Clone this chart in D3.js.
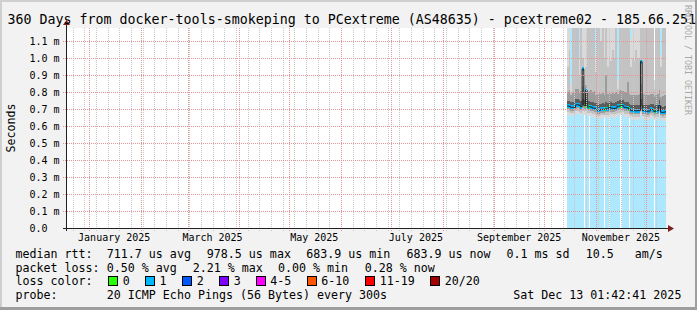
<!DOCTYPE html>
<html><head><meta charset="utf-8">
<script src="https://cdn.jsdelivr.net/npm/d3@7"></script>
<style>
html,body{margin:0;padding:0;background:#f2f2f2;}
svg{display:block;}
text{font-family:"DejaVu Sans Mono",monospace;fill:#000;}
</style>
</head><body>
<svg id="chart" width="697" height="310"></svg>
<script>
// ---------------- data ----------------
const titleText = "360 Days from docker-tools-smokeping to PCextreme (AS48635) - pcextreme02 - 185.66.251";
const yAxisTitle = "Seconds";
const watermarkText = "RRDTOOL / TOBI OETIKER";
const rangeStart = "2024-12-18T01:42:41Z";
const rangeEnd = "2025-12-13T01:42:41Z";
const firstBin = "2025-10-14T18:00:00Z";   // first day with data
const yMaxMs = 1.1765;
const yTicks = [0, 0.1, 0.2, 0.3, 0.4, 0.5, 0.6, 0.7, 0.8, 0.9, 1.0, 1.1];
const yTickLabels = ["0.0", "0.1 m", "0.2 m", "0.3 m", "0.4 m", "0.5 m", "0.6 m", "0.7 m", "0.8 m", "0.9 m", "1.0 m", "1.1 m"];
const monthLabels = ["January 2025", "March 2025", "May 2025", "July 2025", "September 2025", "November 2025"];
const monthLabelDates = ["2025-01-16", "2025-03-16", "2025-05-16", "2025-07-16", "2025-09-16", "2025-11-16"];

// daily values, ms
const medianMs = [0.718,0.716,0.710,0.710,0.709,0.724,0.725,0.722,0.714,0.935,
                  0.720,0.810,0.712,0.713,0.711,0.706,0.704,0.703,0.692,0.693,
                  0.698,0.699,0.698,0.701,0.700,0.712,0.705,0.704,0.703,0.706,
                  0.716,0.717,0.720,0.719,0.709,0.708,0.706,0.698,0.692,0.690,
                  0.691,0.689,0.690,0.691,0.978,0.692,0.690,0.688,0.687,0.689,
                  0.698,0.697,0.686,0.690,0.691,0.720,0.681,0.680,0.682,0.684];
const lossPct = [0.6,0.4,0.5,0.3,0.5,0.6,0.4,0.5,0.7,2.21,
                 0,0.9,0.5,0,0.4,0.5,0.3,0.6,0.4,0.5,
                 0.3,0.5,0,0.6,0.4,0,0.5,0.3,0.4,0.6,
                 0.5,0.4,0,0.5,0.6,0.4,0.5,0,0.3,0.5,
                 0.4,0.6,0.5,0.3,0.8,0.5,0.4,0.6,0.3,0.5,
                 0.4,0.6,0,0.5,0.4,0.6,0.5,0.4,0.3,0.28];
const pingMin = [0.664,0.662,0.658,0.657,0.656,0.668,0.670,0.668,0.660,0.668,
                 0.664,0.666,0.658,0.659,0.657,0.652,0.650,0.650,0.640,0.641,
                 0.646,0.647,0.646,0.648,0.648,0.656,0.651,0.650,0.650,0.652,
                 0.660,0.661,0.664,0.663,0.655,0.654,0.652,0.646,0.640,0.638,
                 0.639,0.637,0.638,0.639,0.660,0.640,0.638,0.636,0.635,0.637,
                 0.645,0.644,0.634,0.638,0.639,0.664,0.630,0.629,0.631,0.633];
const ping10 = [0.682,0.680,0.674,0.674,0.672,0.686,0.688,0.685,0.677,0.690,
                0.682,0.686,0.676,0.677,0.675,0.670,0.668,0.667,0.656,0.657,
                0.662,0.663,0.662,0.665,0.664,0.674,0.669,0.668,0.667,0.670,
                0.678,0.679,0.682,0.681,0.672,0.671,0.670,0.662,0.656,0.654,
                0.655,0.653,0.654,0.655,0.680,0.656,0.654,0.652,0.651,0.653,
                0.662,0.661,0.650,0.654,0.655,0.682,0.646,0.645,0.647,0.649];
const ping25 = [0.698,0.696,0.690,0.690,0.688,0.702,0.704,0.701,0.693,0.705,
                0.698,0.702,0.692,0.693,0.691,0.686,0.684,0.683,0.672,0.673,
                0.678,0.679,0.678,0.681,0.680,0.690,0.685,0.684,0.683,0.686,
                0.694,0.695,0.698,0.697,0.688,0.687,0.686,0.678,0.672,0.670,
                0.671,0.669,0.670,0.671,0.700,0.672,0.670,0.668,0.667,0.669,
                0.678,0.677,0.666,0.670,0.671,0.698,0.662,0.661,0.663,0.665];
const ping40 = [0.710,0.708,0.702,0.702,0.701,0.715,0.716,0.714,0.706,0.725,
                0.712,0.720,0.704,0.705,0.703,0.698,0.696,0.695,0.684,0.685,
                0.690,0.691,0.690,0.693,0.692,0.704,0.697,0.696,0.695,0.698,
                0.708,0.709,0.712,0.711,0.701,0.700,0.698,0.690,0.684,0.682,
                0.683,0.681,0.682,0.683,0.720,0.684,0.682,0.680,0.679,0.681,
                0.690,0.689,0.678,0.682,0.683,0.710,0.673,0.672,0.674,0.676];
const ping60 = [0.750,0.748,0.740,0.742,0.742,0.758,0.760,0.755,0.748,0.760,
                0.752,0.765,0.745,0.746,0.744,0.740,0.738,0.736,0.726,0.727,
                0.732,0.733,0.732,0.740,0.734,0.746,0.739,0.738,0.737,0.740,
                0.750,0.752,0.755,0.754,0.744,0.742,0.742,0.732,0.726,0.724,
                0.725,0.723,0.724,0.725,0.760,0.726,0.724,0.722,0.721,0.723,
                0.732,0.731,0.720,0.724,0.725,0.755,0.715,0.714,0.716,0.718];
const ping75 = [0.800,0.810,0.780,0.795,0.800,0.815,0.820,0.800,0.805,0.830,
                0.800,0.840,0.800,0.805,0.810,0.800,0.805,0.785,0.790,0.800,
                0.790,0.795,0.785,0.900,0.790,0.795,0.790,0.795,0.790,0.800,
                0.790,0.805,0.810,0.805,0.800,0.800,0.860,0.790,0.780,0.780,
                0.785,0.780,0.785,0.790,0.850,0.790,0.785,0.785,0.780,0.785,
                0.790,0.790,0.770,0.785,0.790,0.810,0.770,0.775,0.780,0.780];
const ping90 = [0.950,1.050,0.800,1.250,1.250,1.250,1.200,0.900,1.250,1.000,
                0.900,0.950,1.250,1.250,1.250,1.250,1.250,0.920,1.250,1.250,
                1.100,1.250,1.000,1.250,0.950,1.000,0.980,1.050,1.000,1.250,
                0.820,1.250,1.250,1.250,1.250,1.250,1.250,1.200,0.950,1.000,
                0.980,1.050,1.000,1.000,1.250,1.250,1.250,1.250,1.250,1.250,
                1.250,1.200,0.820,1.250,1.250,1.250,0.950,1.250,1.250,1.250];
const pingMax = [1.250,1.250,0.850,1.250,1.250,1.250,1.250,1.000,1.250,1.250,
                 1.250,1.250,1.250,1.250,1.250,1.250,1.250,1.020,1.250,1.250,
                 1.250,1.250,1.250,1.250,1.250,1.250,1.250,1.250,1.250,1.250,
                 0.870,1.250,1.250,1.250,1.250,1.250,1.250,1.250,1.120,1.250,
                 1.250,1.250,1.250,1.250,1.250,1.250,1.250,1.250,1.250,1.250,
                 1.250,1.250,0.870,1.250,1.250,1.250,1.020,1.250,1.250,1.250];

const lossBuckets = ["0", "1", "2", "3", "4-5", "6-10", "11-19", "20/20"];
const lossColors = ["#26ff00", "#00b8ff", "#0059ff", "#7e00ff", "#ff00ff", "#ff5500", "#ff0000", "#a10000"];
const lossBucketMaxPings = [0, 1, 2, 3, 5, 10, 19, 20];
const pingsPerRound = 20;

const rttLabel = "median rtt:";
const rttStats = ["711.7 us avg", "978.5 us max", "683.9 us min", "683.9 us now", "0.1 ms sd", "10.5", "am/s"];
const lossLabel = "packet loss:";
const lossStats = ["0.50 % avg", "2.21 % max", "0.00 % min", "0.28 % now"];
const colorLabel = "loss color:";
const probeLabel = "probe:";
const probeTexts = ["20 ICMP Echo Pings (56 Bytes) every 300s", "Sat Dec 13 01:42:41 2025"];

// ---------------- layout ----------------
const W = 697, H = 310;
const L = 66, R = 666, T = 28, B = 228;
const svg = d3.select("#chart");

svg.append("rect").attr("width", W).attr("height", H).attr("fill", "#f2f2f2");
// 3D frame
svg.append("rect").attr("x", 0).attr("y", 0).attr("width", W).attr("height", 2).attr("fill", "#cfcfcf");
svg.append("rect").attr("x", 0).attr("y", 0).attr("width", 2).attr("height", H).attr("fill", "#cfcfcf");
svg.append("rect").attr("x", 0).attr("y", H - 3).attr("width", W).attr("height", 3).attr("fill", "#9e9e9e");
svg.append("rect").attr("x", W - 2).attr("y", 0).attr("width", 2).attr("height", H).attr("fill", "#9e9e9e");

const x = d3.scaleUtc().domain([new Date(rangeStart), new Date(rangeEnd)]).range([L, R]);
const y = d3.scaleLinear().domain([0, yMaxMs]).range([B, T]);

svg.append("rect").attr("x", L).attr("y", T).attr("width", R - L).attr("height", B - T).attr("fill", "#ffffff");

svg.append("clipPath").attr("id", "plotclip").append("rect")
  .attr("x", L).attr("y", T).attr("width", R - L).attr("height", B - T);

const endDate = new Date(rangeEnd);
const bins = medianMs.map((m, i) => {
  const s = d3.utcDay.offset(new Date(firstBin), i);
  let e = d3.utcDay.offset(new Date(firstBin), i + 1);
  if (e > endDate) e = endDate;
  const pings = lossPct[i] / 100 * pingsPerRound;
  let b = 0;
  if (pings > 0) { b = lossBucketMaxPings.findIndex(t => pings <= t); if (b < 1) b = 1; }
  return {i, s, e, m, b, loss: lossPct[i]};
});

const plot = svg.append("g").attr("clip-path", "url(#plotclip)").attr("shape-rendering", "crispEdges");

// loss background
plot.selectAll("rect.lossbg").data(bins.filter(d => d.loss > 0)).join("rect")
  .attr("x", d => x(d.s)).attr("width", d => x(d.e) - x(d.s))
  .attr("y", T).attr("height", B - T)
  .attr("fill", d => lossColors[d.b]).attr("fill-opacity", 0.32);

// smoke
const bands = [
  [pingMin, pingMax, "#dadada"],
  [ping10, ping90, "#c3c3c3"],
  [ping25, ping75, "#9c9c9c"],
  [ping40, ping60, "#5c5c5c"]
];
bands.forEach(([lo, hi, col]) => {
  plot.append("g").selectAll("rect").data(bins).join("rect")
    .attr("x", d => x(d.s)).attr("width", d => x(d.e) - x(d.s))
    .attr("y", d => y(Math.min(hi[d.i], yMaxMs + 0.05)))
    .attr("height", d => y(lo[d.i]) - y(Math.min(hi[d.i], yMaxMs + 0.05)))
    .attr("fill", col);
});

// median black line
const medPts = bins.map(d => [x(d.s), y(d.m)]);
medPts.push([x(bins[bins.length - 1].e), y(bins[bins.length - 1].m)]);
svg.append("path").attr("clip-path", "url(#plotclip)")
  .attr("d", d3.line().curve(d3.curveStepAfter)(medPts))
  .attr("fill", "none").attr("stroke", "#202020").attr("stroke-width", 1);

// median loss-coloured blocks
plot.append("g").selectAll("rect").data(bins).join("rect")
  .attr("x", d => x(d.s)).attr("width", d => x(d.e) - x(d.s))
  .attr("y", d => y(d.m) - 2).attr("height", 4)
  .attr("fill", d => lossColors[d.b]);

// ---------------- grid ----------------
const grid = svg.append("g").attr("shape-rendering", "crispEdges");
const weeks = d3.utcSunday.range(new Date(rangeStart), endDate);
const months = d3.utcMonth.range(new Date(rangeStart), endDate);
weeks.forEach(w => {
  const px = Math.round(x(w)) + 0.5;
  grid.append("line").attr("x1", px).attr("x2", px).attr("y1", T).attr("y2", B + 3)
    .attr("stroke", "#c8c8c8").attr("stroke-dasharray", "1,1");
});
months.forEach(mo => {
  const px = Math.round(x(mo)) + 0.5;
  grid.append("line").attr("x1", px).attr("x2", px).attr("y1", T).attr("y2", B + 3)
    .attr("stroke", "#e59595").attr("stroke-dasharray", "1,1");
});
yTicks.forEach((t, i) => {
  if (t === 0) return;
  const py = Math.round(y(t)) + 0.5;
  grid.append("line").attr("x1", L - 3).attr("x2", R).attr("y1", py).attr("y2", py)
    .attr("stroke", "#e59595").attr("stroke-dasharray", "1,1");
});

// ---------------- axes ----------------
const ax = svg.append("g").attr("shape-rendering", "crispEdges");
ax.append("line").attr("x1", L - 3).attr("x2", R + 3).attr("y1", B + 0.5).attr("y2", B + 0.5).attr("stroke", "#202020");
ax.append("line").attr("x1", L + 0.5).attr("x2", L + 0.5).attr("y1", B + 3).attr("y2", T - 4).attr("stroke", "#202020");
svg.append("path").attr("d", `M${R + 2},${B - 3} L${R + 8},${B + 0.5} L${R + 2},${B + 4} Z`).attr("fill", "#801f1f");
svg.append("path").attr("d", `M${L - 3},${T - 3} L${L + 0.5},${T - 8} L${L + 4},${T - 3} Z`).attr("fill", "#801f1f");

// y labels
svg.append("g").selectAll("text").data(yTicks).join("text")
  .attr("x", 29.5).attr("y", d => y(d) + 3.6)
  .attr("font-size", "10px")
  .text((d, i) => yTickLabels[i]);

// x labels
svg.append("g").selectAll("text").data(monthLabels).join("text")
  .attr("x", (d, i) => x(new Date(monthLabelDates[i] + "T00:00:00Z")))
  .attr("y", 240.5).attr("text-anchor", "middle").attr("font-size", "10px")
  .text(d => d);

// title
svg.append("text").attr("x", 7.5).attr("y", 23.5).attr("font-size", "13.3px").text(titleText);

// y axis title
svg.append("text").attr("transform", "translate(14.5,128) rotate(-90)")
  .attr("text-anchor", "middle").attr("font-size", "11.6px").text(yAxisTitle);

// watermark
svg.append("text").attr("transform", "translate(685,60) rotate(90)")
  .attr("text-anchor", "middle").attr("font-size", "8.3px").style("fill", "#a8a8a8").text(watermarkText);

// ---------------- legend ----------------
const LF = "11.65px";
const rowY = [258, 271.5, 285, 298.5];
function put(txt, px, py) {
  svg.append("text").attr("x", px).attr("y", py).attr("font-size", LF).attr("xml:space", "preserve").text(txt);
}
put(rttLabel, 15.5, rowY[0]);
const rttX = [106.8, 206.8, 306.2, 406.5, 506.5, 585.8, 634.8];
rttStats.forEach((t, i) => put(t, rttX[i], rowY[0]));
put(lossLabel, 15.5, rowY[1]);
const lossX = [106.8, 192.8, 278, 364.8];
lossStats.forEach((t, i) => put(t, lossX[i], rowY[1]));
put(colorLabel, 15.5, rowY[2]);
const boxX = [108.5, 145.5, 182.5, 219.5, 256.5, 307.5, 365.5, 430.5];
const boxLabelX = [122.8, 159.5, 196.8, 233.8, 270.2, 321.2, 379.8, 444.8];
lossBuckets.forEach((lab, i) => {
  svg.append("rect").attr("x", boxX[i]).attr("y", 276.5).attr("width", 9).attr("height", 9)
    .attr("fill", lossColors[i]).attr("stroke", "#000").attr("stroke-width", 1).attr("shape-rendering", "crispEdges");
  put(lab, boxLabelX[i], rowY[2]);
});
put(probeLabel, 15.5, rowY[3]);
put(probeTexts[0], 106.8, rowY[3]);
put(probeTexts[1], 513.2, rowY[3]);
</script>
</body></html>
